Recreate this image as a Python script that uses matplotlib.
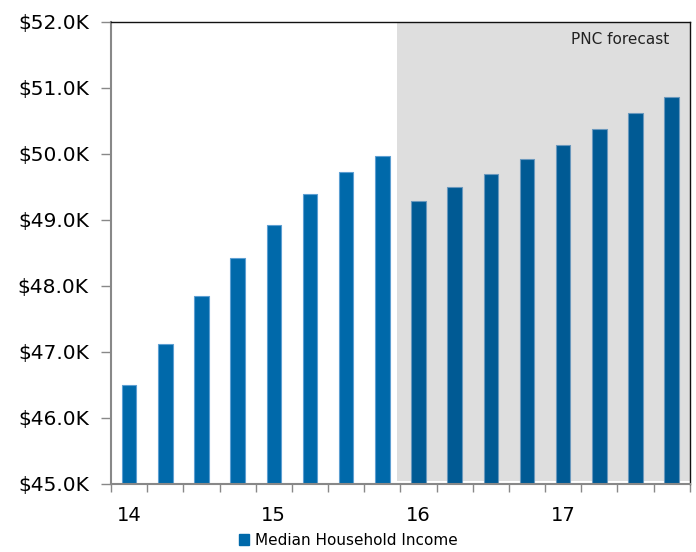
import numpy as np
import matplotlib.pyplot as plt
from matplotlib.patches import Patch

# quarterly median household income, $K (2014Q1 - 2017Q4)
quarters = np.arange(16)
income = [46.50, 47.11, 47.84, 48.41, 48.92, 49.38, 49.72, 49.96,
          49.28, 49.50, 49.69, 49.91, 50.13, 50.37, 50.61, 50.86]
n_actual = 8
year_labels = ["14", "15", "16", "17"]
series_name = "Median Household Income"

c_actual = "#0069aa"
c_fcst = "#005a94"

fig = plt.figure(figsize=(6.96, 5.52), dpi=100)
ax = fig.add_axes([0.1595, 0.124, 0.8315, 0.837])

# forecast shading
ax.axvspan(n_actual - 0.6, 15.5, ymin=0.006, ymax=1, color="#dedede", lw=0, zorder=0)
ax.text(0.965, 0.961, "PNC forecast", transform=ax.transAxes, ha="right", va="center",
        fontsize=11, color="#222222")

cols = [c_actual] * n_actual + [c_fcst] * (len(income) - n_actual)
edges = ["#5d9fd2"] * n_actual + ["#6a98bd"] * (len(income) - n_actual)
ax.bar(quarters, np.array(income) - 45, bottom=45, width=0.4, color=cols,
       edgecolor=edges, linewidth=0.8, zorder=2)

ax.set_xlim(-0.5, 15.5)
ax.set_ylim(45, 52)
ax.set_yticks(np.arange(45, 52.1, 1))
ax.set_yticklabels(["$%.1fK" % v for v in np.arange(45, 52.1, 1)])
ax.tick_params(axis="y", length=7, width=1, color="#888888", pad=9, labelsize=14.5)

ax.set_xticks([0, 4, 8, 12])
ax.set_xticklabels(year_labels)
ax.set_xticks(np.arange(-0.5, 15.6, 1), minor=True)
ax.tick_params(axis="x", which="major", length=0, pad=16, labelsize=14)
ax.tick_params(axis="x", which="minor", length=6, width=1, color="#888888")

for s in ["left", "bottom"]:
    ax.spines[s].set_color("#888888")
    ax.spines[s].set_linewidth(1.5)
for s in ["top", "right"]:
    ax.spines[s].set_color("#111111")
    ax.spines[s].set_linewidth(1.0)

fig.legend(handles=[Patch(color=c_actual, label=series_name)], loc="lower center",
           bbox_to_anchor=(0.5, -0.018), frameon=False, fontsize=11,
           handlelength=0.7, handleheight=0.7, handletextpad=0.35)

fig.savefig("out.png", dpi=100)
